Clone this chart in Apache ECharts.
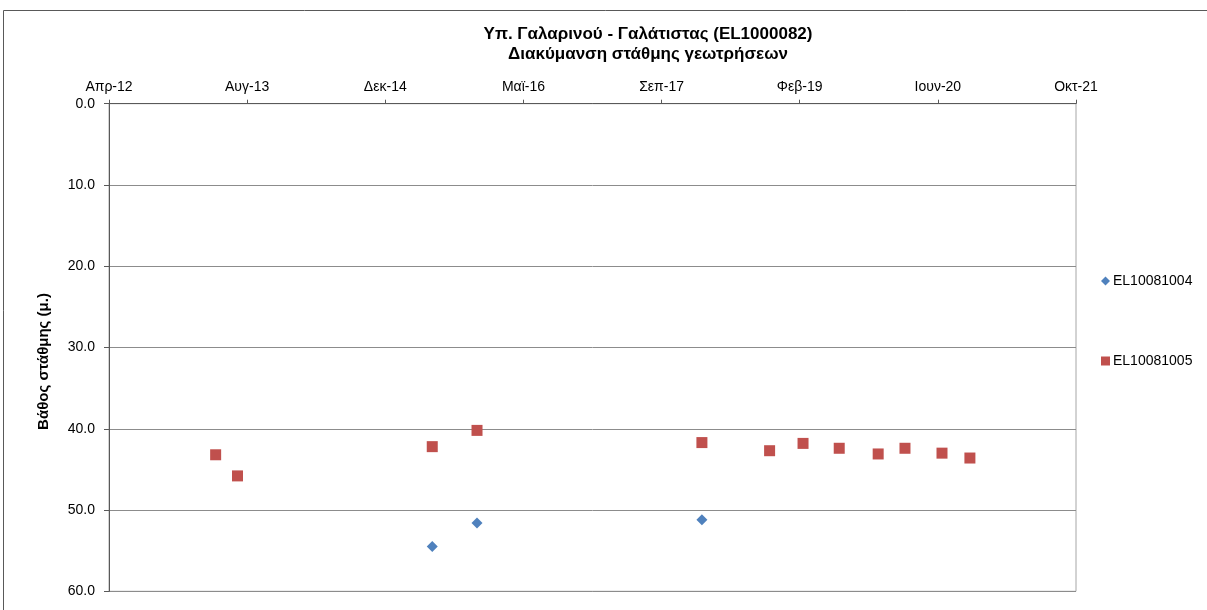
<!DOCTYPE html>
<html>
<head>
<meta charset="utf-8">
<script src="https://cdn.jsdelivr.net/npm/echarts@6/dist/echarts.min.js"></script>
<style>
  html, body { margin: 0; padding: 0; background: #fff; }
  #chart { width: 1207px; height: 610px; }
</style>
</head>
<body>
<div id="chart"></div>
<script>
// Measurement dates and depth to water (m) per borehole
const datesEL10081004 = ['2015-06-15', '2015-11-24', '2018-02-15'];
const depthEL10081004 = [54.5, 51.6, 51.2];

const datesEL10081005 = ['2013-04-22', '2013-07-10', '2015-06-15', '2015-11-24', '2018-02-15',
  '2018-10-18', '2019-02-16', '2019-06-27', '2019-11-15', '2020-02-20', '2020-07-03', '2020-10-12'];
const depthEL10081005 = [43.2, 45.8, 42.2, 40.2, 41.7, 42.7, 41.8, 42.4, 43.1, 42.4, 43.0, 43.6];

const seriesNames = ['EL10081004', 'EL10081005'];
const titleLines = ['Υπ. Γαλαρινού - Γαλάτιστας (EL1000082)', 'Διακύμανση στάθμης γεωτρήσεων'];
const yAxisTitle = 'Βάθος στάθμης (μ.)';
const monthNames = ['Ιαν', 'Φεβ', 'Μαρ', 'Απρ', 'Μαϊ', 'Ιουν', 'Ιουλ', 'Αυγ', 'Σεπ', 'Οκτ', 'Νοε', 'Δεκ'];

// Date axis runs on spreadsheet day serials (days since 1899-12-30)
const EPOCH = Date.UTC(1899, 11, 30);
const DAY = 86400000;
function toSerial(s) {
  const p = s.split('-').map(Number);
  return Math.round((Date.UTC(p[0], p[1] - 1, p[2]) - EPOCH) / DAY);
}
function serialLabel(v) {
  const d = new Date(EPOCH + v * DAY);
  return monthNames[d.getUTCMonth()] + '-' + String(d.getUTCFullYear()).slice(2);
}
function pairs(dates, vals) {
  return dates.map((d, i) => [toSerial(d), vals[i]]);
}

const FONT = '"Liberation Sans", Arial, sans-serif';
const chart = echarts.init(document.getElementById('chart'), null, { renderer: 'canvas' });

chart.setOption({
  animation: false,
  textStyle: { fontFamily: FONT },
  title: {
    text: titleLines.join('\n'),
    left: 648,
    top: 24,
    padding: 0,
    textAlign: 'center',
    textStyle: { fontFamily: FONT, fontSize: 17, fontWeight: 'bold', color: '#000', lineHeight: 20 }
  },
  graphic: [{
    type: 'rect',
    shape: { x: 3.5, y: 10.5, width: 1260, height: 700 },
    style: { fill: 'none', stroke: '#595959', lineWidth: 1 },
    silent: true,
    z: -1
  }],
  legend: {
    orient: 'vertical',
    left: 1101,
    top: 274,
    padding: 0,
    itemGap: 66,
    itemWidth: 9,
    itemHeight: 9,
    textStyle: { fontFamily: FONT, fontSize: 14, color: '#000', padding: [0, 0, 0, -2] },
    data: [
      { name: seriesNames[0], icon: 'diamond', itemStyle: { opacity: 1 } },
      { name: seriesNames[1], icon: 'rect', itemStyle: { opacity: 1 } }
    ]
  },
  grid: {
    left: 109,
    top: 103.7,
    right: 131,
    bottom: 18.7,
    show: true,
    borderColor: '#a6a6a6',
    borderWidth: 1
  },
  xAxis: {
    type: 'value',
    position: 'top',
    min: 41000,
    max: 44500,
    interval: 500,
    axisLine: { show: true, onZero: false, lineStyle: { color: '#595959', width: 1 } },
    axisTick: { show: true, inside: false, length: 4, lineStyle: { color: '#595959' } },
    axisLabel: {
      margin: 10,
      fontSize: 14,
      color: '#000',
      fontFamily: FONT,
      formatter: serialLabel
    },
    splitLine: { show: false }
  },
  yAxis: {
    type: 'value',
    inverse: true,
    min: 0,
    max: 60,
    interval: 10,
    name: yAxisTitle,
    nameLocation: 'middle',
    nameGap: 58,
    nameTextStyle: { fontFamily: FONT, fontSize: 15, fontWeight: 'bold', color: '#000', padding: [0, 28, 0, 0] },
    axisLine: { show: true, onZero: false, lineStyle: { color: '#595959', width: 1 } },
    axisTick: { show: true, inside: false, length: 5, lineStyle: { color: '#595959' } },
    axisLabel: {
      margin: 14,
      fontSize: 14,
      color: '#000',
      fontFamily: FONT,
      formatter: v => v.toFixed(1)
    },
    splitLine: { show: true, lineStyle: { color: '#8c8c8c', width: 1 } }
  },
  series: [
    {
      name: seriesNames[0],
      type: 'scatter',
      symbol: 'diamond',
      symbolSize: [11, 11],
      itemStyle: { color: '#4F81BD', opacity: 1 },
      data: pairs(datesEL10081004, depthEL10081004)
    },
    {
      name: seriesNames[1],
      type: 'scatter',
      symbol: 'rect',
      symbolSize: 11,
      itemStyle: { color: '#C0504D', opacity: 1 },
      data: pairs(datesEL10081005, depthEL10081005)
    }
  ]
});
</script>
</body>
</html>
